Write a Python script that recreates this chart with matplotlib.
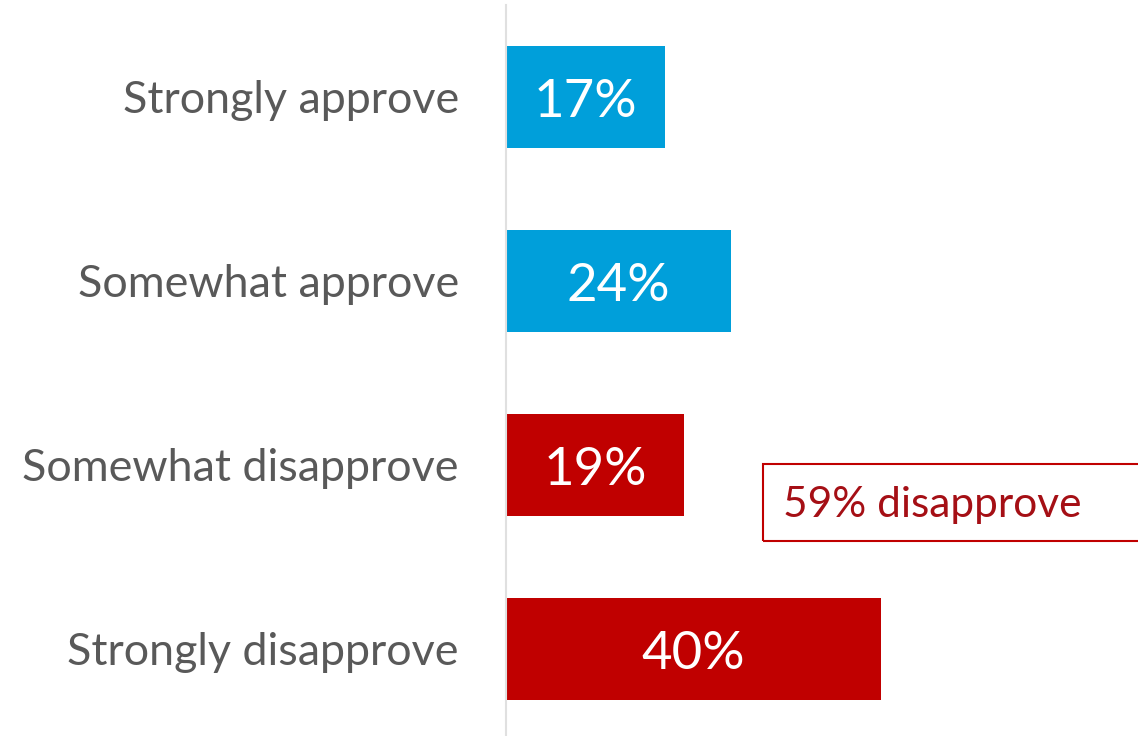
import matplotlib.pyplot as plt
from matplotlib.patches import Rectangle

# approval data
categories = ['Strongly approve', 'Somewhat approve', 'Somewhat disapprove', 'Strongly disapprove']
values = [17, 24, 19, 40]
colors = ['#009FDA', '#009FDA', '#C00000', '#C00000']
note = '59% disapprove'

plt.rcParams['font.family'] = ['Lato', 'DejaVu Sans']

fig = plt.figure(figsize=(11.38, 7.36), dpi=100)
ax = fig.add_axes([506 / 1138, 0, 632 / 1138, 731 / 736])

ypos = list(range(len(categories)))
ax.barh(ypos, values, height=0.55, color=colors)
ax.set_xlim(0, 632 / 9.37)
ax.set_ylim(3.473, 3.473 - 731 / 184)

for y, v in zip(ypos, values):
    ax.text(v / 2, y + 0.03, f'{v}%', ha='center', va='center', color='white', fontsize=38)

ax.set_yticks(ypos)
ax.set_yticklabels(categories, fontsize=32.3, color='#595959')
ax.tick_params(axis='y', length=0, pad=34)
ax.set_xticks([])
for s in ['top', 'right', 'bottom']:
    ax.spines[s].set_visible(False)
ax.spines['left'].set_color('#E0E0E0')
ax.spines['left'].set_linewidth(1.5)

# callout box
box = Rectangle((763 / 1138, 1 - 541 / 736), 400 / 1138, 77 / 736, transform=fig.transFigure,
                fill=False, edgecolor='#C00000', linewidth=1.5)
fig.patches.append(box)
fig.text(783 / 1138, 1 - 505 / 736, note, ha='left', va='center', color='#A50F15', fontsize=30.5)

fig.savefig('out.png', dpi=100)
